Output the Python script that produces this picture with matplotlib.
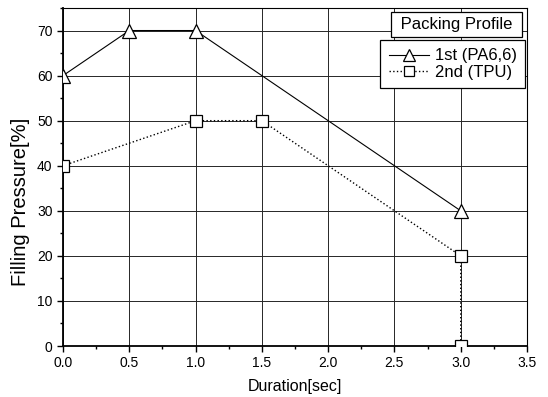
import matplotlib
matplotlib.use("Agg")
import matplotlib.pyplot as plt
from matplotlib.ticker import MultipleLocator

plt.rcParams['font.family'] = ['Liberation Sans', 'DejaVu Sans']

x1 = [0.0, 0.5, 1.0, 3.0]
y1 = [60, 70, 70, 30]
x2 = [0.0, 1.0, 1.5, 3.0, 3.0]
y2 = [40, 50, 50, 20, 0]
label1 = "1st (PA6,6)"
label2 = "2nd (TPU)"
legend_title = "Packing Profile"

fig = plt.figure(figsize=(5.48, 3.97), dpi=100)
ax = fig.add_axes([63/548, 1-346/397, 464/548, 338/397])

ax.plot(x1, y1, '-', color='black', lw=0.8, marker='^', ms=10, mfc='white', mec='black', mew=0.9, label=label1, zorder=3)
ax.plot(x2, y2, ':', color='black', lw=1.0, marker='s', ms=8, mfc='white', mec='black', mew=0.9, label=label2, zorder=3)

ax.set_xlim(0, 3.5)
ax.set_ylim(0, 75)
ax.xaxis.set_major_locator(MultipleLocator(0.5))
ax.xaxis.set_minor_locator(MultipleLocator(0.25))
ax.yaxis.set_major_locator(MultipleLocator(10))
ax.yaxis.set_minor_locator(MultipleLocator(5))
ax.set_xticklabels([f"{v:.1f}" for v in ax.get_xticks()])
ax.grid(True, which='major', color='0.15', lw=0.7)
ax.tick_params(which='both', direction='out', labelsize=10, top=False, right=False)
ax.tick_params(which='major', length=4, width=1)
ax.tick_params(which='minor', length=2.5, width=1)
for s in ['left', 'bottom']:
    ax.spines[s].set_linewidth(1.3)
for s in ['top', 'right']:
    ax.spines[s].set_linewidth(0.8)

ax.set_xlabel("Duration[sec]", fontsize=11.5, labelpad=6)
ax.set_ylabel("Filling Pressure[%]", fontsize=14.5)
ax.yaxis.set_label_coords(-0.071, 0.425)

leg = ax.legend(loc='upper right', bbox_to_anchor=(0.996, 0.905), fontsize=12,
                frameon=True, fancybox=False, edgecolor='black', framealpha=1,
                handlelength=2.4, handletextpad=0.36, borderpad=0.5, labelspacing=0.1,
                borderaxespad=0, markerscale=0.85)
leg.get_frame().set_linewidth(0.9)

ax.text(0.978, 0.950, " " + legend_title + " ", transform=ax.transAxes, ha='right', va='center', fontsize=12,
        bbox=dict(boxstyle='square,pad=0.3', fc='white', ec='black', lw=0.9), zorder=5)

fig.savefig("out.png", dpi=100)
